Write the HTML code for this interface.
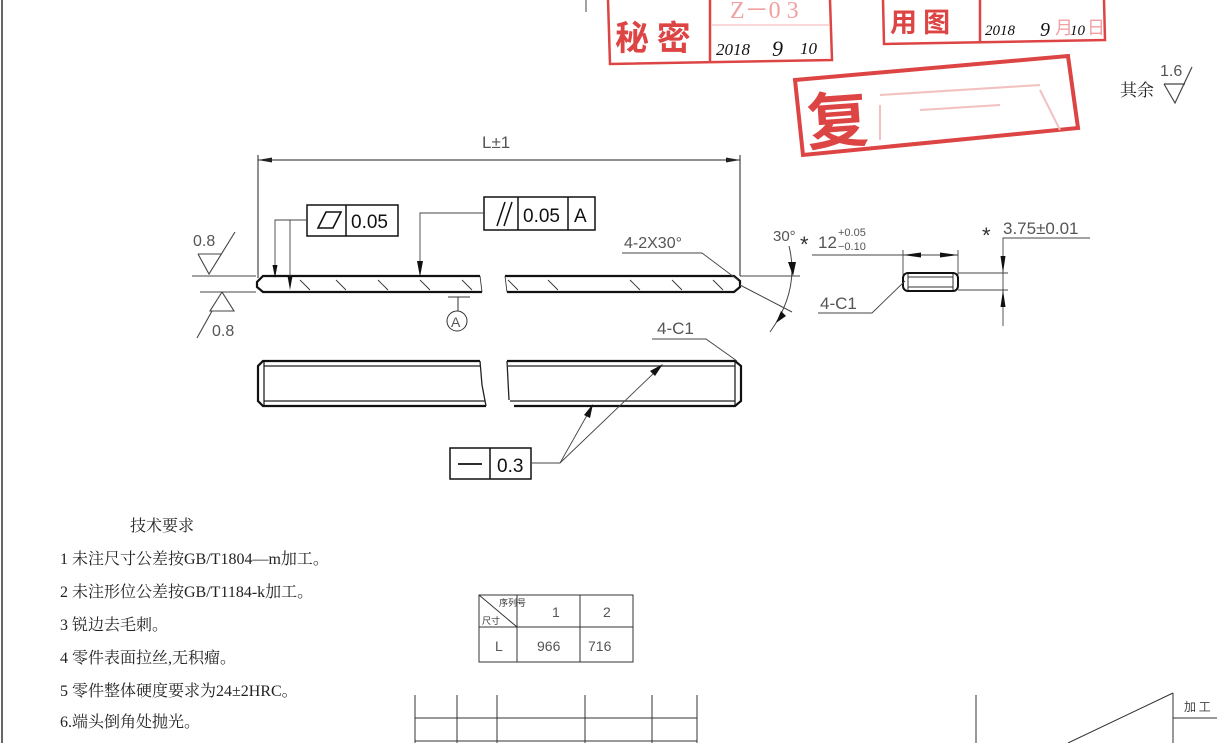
<!DOCTYPE html>
<html><head><meta charset="utf-8"><style>
html,body{margin:0;padding:0;background:#fff;}
svg{display:block;}
.d{font-family:"Liberation Sans",sans-serif;fill:#555;}
.c{font-family:"Liberation Serif","Noto Serif CJK SC",serif;fill:#222;font-size:16px;}
</style></head><body>
<svg width="1217" height="743" viewBox="0 0 1217 743" xmlns="http://www.w3.org/2000/svg">
<rect width="1217" height="743" fill="#fff"/>
<line x1="2" y1="0" x2="2" y2="743" stroke="#666" stroke-width="2"/>
<line x1="586" y1="0" x2="586" y2="12" stroke="#444" stroke-width="1"/>

<!-- stamps -->
<g stroke="#d44" fill="none" stroke-width="2.5">
<polyline points="608,0 610,64 832,60 830,0"/>
<line x1="710" y1="0" x2="710" y2="62"/>
<line x1="712" y1="25" x2="830" y2="25" stroke="#f2b0b0" stroke-width="1"/>
<polyline points="883,0 884,44 1105,40 1104,0"/>
<line x1="980" y1="0" x2="980" y2="42"/>
<polygon points="795,80 1068,56 1078,128 803,155" stroke-width="4"/>
</g>
<text x="615" y="50" font-family="Noto Sans CJK SC,sans-serif" font-weight="bold" font-size="34" fill="#d44">秘 密</text>
<text x="730" y="18" font-family="Liberation Serif,serif" font-size="24" fill="#f0a0a0">Z－0 3</text>
<text x="716" y="55" font-family="Liberation Serif,serif" font-style="italic" font-size="17" fill="#111">2018</text>
<text x="772" y="56" font-family="Liberation Serif,serif" font-style="italic" font-size="22" fill="#111">9</text>
<text x="800" y="54" font-family="Liberation Serif,serif" font-style="italic" font-size="17" fill="#111">10</text>
<text x="890" y="32" font-family="Noto Sans CJK SC,sans-serif" font-weight="bold" font-size="27" fill="#d44">用 图</text>
<text x="985" y="35" font-family="Liberation Serif,serif" font-style="italic" font-size="15" fill="#111">2018</text>
<text x="1040" y="36" font-family="Liberation Serif,serif" font-style="italic" font-size="20" fill="#111">9</text>
<text x="1055" y="34" font-family="Noto Sans CJK SC,sans-serif" font-size="18" fill="#f0a0a0">月</text>
<text x="1070" y="35" font-family="Liberation Serif,serif" font-style="italic" font-size="15" fill="#111">10</text>
<text x="1087" y="34" font-family="Noto Sans CJK SC,sans-serif" font-size="18" fill="#f0a0a0">日</text>
<text x="808" y="145" font-family="Noto Sans CJK SC,sans-serif" font-weight="bold" font-size="62" fill="#d44" transform="rotate(-4 808 145)">复</text>
<g stroke="#f3c0c0" stroke-width="2" fill="none"><line x1="880" y1="95" x2="1040" y2="85"/><line x1="880" y1="105" x2="880" y2="140"/><line x1="920" y1="110" x2="1000" y2="105"/><path d="M1040,90 q10,20 20,40"/></g>

<!-- roughness other -->
<text x="1120" y="96" font-family="Liberation Serif,Noto Serif CJK SC,serif" font-size="17" fill="#222">其余</text>
<text x="1160" y="76" class="d" font-size="16" fill="#444">1.6</text>
<polyline points="1164,84 1175,103 1192,67" stroke="#444" fill="none" stroke-width="1.2"/>
<line x1="1164" y1="84" x2="1185" y2="84" stroke="#444" stroke-width="1.2"/>

<g stroke="#222" fill="none" stroke-width="1">
<!-- L±1 dimension -->
<line x1="258" y1="155" x2="258" y2="278"/>
<line x1="740" y1="155" x2="740" y2="276"/>
<line x1="258" y1="160" x2="740" y2="160"/>
</g>
<polygon points="258,160 272,157.5 272,162.5" fill="#222"/>
<polygon points="740,160 726,157.5 726,162.5" fill="#222"/>
<text x="482" y="148" class="d" font-size="17">L±1</text>

<!-- roughness 0.8 -->
<text x="193" y="246" class="d" font-size="16">0.8</text>
<g stroke="#444" fill="none" stroke-width="1.1">
<polyline points="198,254 209,274 235,232"/>
<line x1="198" y1="254" x2="221" y2="254"/>
<line x1="192" y1="276" x2="256" y2="276"/>
<line x1="200" y1="292" x2="256" y2="292"/>
<polyline points="222,292 234,311 210,311 222,292"/>
<line x1="212" y1="311" x2="197" y2="338"/>
</g>
<text x="212" y="336" class="d" font-size="16">0.8</text>

<!-- top bar -->
<g stroke="#111" stroke-width="2.2" fill="none">
<path d="M480,276 L263,276 L257,282 L257,287 L263,292 L482,292"/>
<path d="M505,276 L734,276 L740,281 L740,287 L734,292 L507,292"/>
</g>
<g stroke="#333" stroke-width="0.9">
<line x1="480" y1="276" x2="482" y2="292"/><line x1="505" y1="276" x2="507" y2="292"/>
<line x1="300" y1="280" x2="310" y2="290"/><line x1="336" y1="280" x2="346" y2="290"/><line x1="378" y1="280" x2="388" y2="290"/><line x1="420" y1="280" x2="430" y2="290"/><line x1="462" y1="280" x2="472" y2="290"/>
<line x1="508" y1="280" x2="518" y2="290"/><line x1="548" y1="280" x2="558" y2="290"/><line x1="630" y1="280" x2="640" y2="290"/><line x1="672" y1="280" x2="682" y2="290"/><line x1="713" y1="280" x2="723" y2="290"/>
</g>

<!-- flatness frame -->
<g stroke="#111" stroke-width="1.5" fill="none">
<rect x="307" y="205" width="91" height="31"/><line x1="346" y1="205" x2="346" y2="236"/>
<polygon points="318,228 326,212 341,212 333,228" stroke-width="1.6"/>
<rect x="484" y="197" width="111" height="33"/><line x1="518" y1="197" x2="518" y2="230"/><line x1="568" y1="197" x2="568" y2="230"/>
<line x1="497" y1="226" x2="505" y2="202"/><line x1="504" y1="226" x2="512" y2="202"/>
</g>
<text x="351" y="228" font-family="Liberation Sans,sans-serif" font-size="19" fill="#111">0.05</text>
<text x="523" y="222" font-family="Liberation Sans,sans-serif" font-size="19" fill="#111">0.05</text>
<text x="574" y="222" font-family="Liberation Sans,sans-serif" font-size="19" fill="#111">A</text>
<g stroke="#444" stroke-width="0.9" fill="none">
<polyline points="307,220 275,220 275,268"/>
<line x1="290" y1="220" x2="290" y2="280"/>
<polyline points="484,213 420,213 420,262"/>
</g>
<polygon points="275,278 272.5,265 277.5,265" fill="#111"/>
<polygon points="290,290 287.5,276 292.5,276" fill="#111"/>
<polygon points="420,277 417,261 423,261" fill="#111"/>
<!-- datum A -->
<g stroke="#333" stroke-width="1" fill="none">
<line x1="448" y1="297" x2="470" y2="297"/><line x1="458" y1="297" x2="458" y2="311"/>
<circle cx="457" cy="321" r="10"/>
</g>
<text x="451" y="327" class="d" font-size="14">A</text>

<!-- 4-2X30 -->
<text x="624" y="248" class="d" font-size="16">4-2X30°</text>
<polyline points="622,253 702,253 738,280" stroke="#444" fill="none" stroke-width="0.9"/>
<g stroke="#444" fill="none" stroke-width="1">
<line x1="740" y1="276" x2="800" y2="276"/>
<line x1="740" y1="285" x2="792" y2="312"/>
<path d="M789,246 Q800,290 770,332"/>
</g>
<polygon points="793,276 788,262 796,262" fill="#111"/>
<polygon points="776,323 781,311 786,316" fill="#111"/>
<text x="773" y="241" class="d" font-size="15">30°</text>

<!-- *12 -->
<text x="800" y="252" font-family="Liberation Sans,sans-serif" font-size="22" fill="#333">*</text>
<text x="818" y="248" class="d" font-size="17">12</text>
<text x="838" y="236" class="d" font-size="11">+0.05</text>
<text x="838" y="250" class="d" font-size="11">−0.10</text>
<g stroke="#444" fill="none" stroke-width="0.9">
<line x1="812" y1="255" x2="958" y2="255"/>
<line x1="903" y1="250" x2="903" y2="275"/><line x1="958" y1="250" x2="958" y2="275"/>
</g>
<polygon points="903,255 921,252.5 921,257.5" fill="#111"/>
<polygon points="958,255 940,252.5 940,257.5" fill="#111"/>
<!-- small part -->
<g stroke="#111" stroke-width="2" fill="none">
<rect x="903" y="273" width="55" height="18" rx="5"/>
</g>
<g stroke="#333" stroke-width="1"><line x1="908" y1="277" x2="953" y2="277"/><line x1="908" y1="287" x2="953" y2="287"/><line x1="908" y1="274" x2="908" y2="290"/><line x1="953" y1="274" x2="953" y2="290"/></g>
<text x="820" y="309" class="d" font-size="17">4-C1</text>
<polyline points="818,313 872,313 905,281" stroke="#444" fill="none" stroke-width="0.9"/>
<!-- 3.75 -->
<text x="982" y="243" font-family="Liberation Sans,sans-serif" font-size="22" fill="#333">*</text>
<text x="1003" y="234" class="d" font-size="17">3.75±0.01</text>
<g stroke="#444" fill="none" stroke-width="0.9">
<polyline points="1090,238 1003,238 1003,326"/>
<line x1="958" y1="273" x2="1008" y2="273"/><line x1="958" y1="290" x2="1008" y2="290"/>
</g>
<polygon points="1003,273 1000.5,256 1005.5,256" fill="#111"/>
<polygon points="1003,290 1000.5,307 1005.5,307" fill="#111"/>

<!-- front view bar -->
<g stroke="#111" stroke-width="2.2" fill="none">
<path d="M480,361 L263,361 L258,366 L258,401 L263,406 L486,406"/>
<path d="M507,361 L735,361 L741,366 L741,401 L735,406 L514,406"/>
</g>
<g stroke="#222" stroke-width="1.3">
<line x1="264" y1="366" x2="481" y2="366"/><line x1="264" y1="401" x2="485" y2="401"/>
<line x1="264" y1="362" x2="264" y2="405"/>
<line x1="508" y1="366" x2="735" y2="366"/><line x1="510" y1="401" x2="735" y2="401"/>
<line x1="735" y1="362" x2="735" y2="405"/>
<line x1="480" y1="361" x2="482" y2="385"/><line x1="482" y1="385" x2="486" y2="406"/>
<line x1="507" y1="361" x2="509" y2="400"/>
</g>
<text x="657" y="334" class="d" font-size="17">4-C1</text>
<polyline points="652,339 706,339 737,361" stroke="#444" fill="none" stroke-width="0.9"/>
<!-- straightness -->
<g stroke="#111" stroke-width="1.5" fill="none">
<rect x="450" y="448" width="81" height="31"/><line x1="490" y1="448" x2="490" y2="479"/>
<line x1="458" y1="464" x2="482" y2="464" stroke-width="1.8"/>
</g>
<text x="497" y="472" font-family="Liberation Sans,sans-serif" font-size="19" fill="#111">0.3</text>
<g stroke="#444" fill="none" stroke-width="0.9">
<polyline points="531,463 560,463 590,410"/>
<polyline points="560,463 655,372"/>
</g>
<polygon points="593,404 584,415 590,418" fill="#111"/>
<polygon points="663,364 650,371 655,376" fill="#111"/>

<!-- tech requirements -->
<text x="130" y="531" class="c">技术要求</text>
<text x="60" y="564" class="c">1 未注尺寸公差按GB/T1804—m加工。</text>
<text x="60" y="597" class="c">2 未注形位公差按GB/T1184-k加工。</text>
<text x="60" y="630" class="c">3 锐边去毛刺。</text>
<text x="60" y="663" class="c">4 零件表面拉丝,无积瘤。</text>
<text x="60" y="696" class="c">5 零件整体硬度要求为24±2HRC。</text>
<text x="60" y="727" class="c">6.端头倒角处抛光。</text>

<!-- table -->
<g stroke="#333" stroke-width="1" fill="none">
<rect x="479" y="595" width="154" height="67"/>
<line x1="479" y1="627" x2="633" y2="627"/>
<line x1="517" y1="595" x2="517" y2="662"/><line x1="580" y1="595" x2="580" y2="662"/>
<line x1="479" y1="595" x2="517" y2="627"/>
</g>
<text x="499" y="606" font-family="Noto Sans CJK SC,sans-serif" font-size="9" fill="#333">序列号</text>
<text x="482" y="624" font-family="Noto Sans CJK SC,sans-serif" font-size="9" fill="#333">尺寸</text>
<text x="552" y="617" class="d" font-size="14" fill="#333">1</text>
<text x="603" y="617" class="d" font-size="14" fill="#333">2</text>
<text x="495" y="651" class="d" font-size="14" fill="#333">L</text>
<text x="537" y="651" class="d" font-size="14" fill="#333">966</text>
<text x="588" y="651" class="d" font-size="14" fill="#333">716</text>

<!-- bottom tables -->
<g stroke="#333" stroke-width="1" fill="none">
<line x1="415" y1="695" x2="415" y2="743"/><line x1="457" y1="695" x2="457" y2="743"/><line x1="497" y1="695" x2="497" y2="743"/><line x1="585" y1="695" x2="585" y2="743"/><line x1="652" y1="695" x2="652" y2="743"/><line x1="697" y1="695" x2="697" y2="743"/>
<line x1="415" y1="718" x2="697" y2="718"/><line x1="415" y1="741" x2="697" y2="741"/>
<line x1="976" y1="695" x2="976" y2="743"/>
<line x1="1173" y1="693" x2="1068" y2="743"/>
<line x1="1173" y1="693" x2="1173" y2="743"/>
<line x1="1173" y1="718" x2="1217" y2="718"/>
</g>
<text x="1184" y="711" font-family="Noto Sans CJK SC,sans-serif" font-size="12" fill="#444">加 工</text>
</svg>
</body></html>
